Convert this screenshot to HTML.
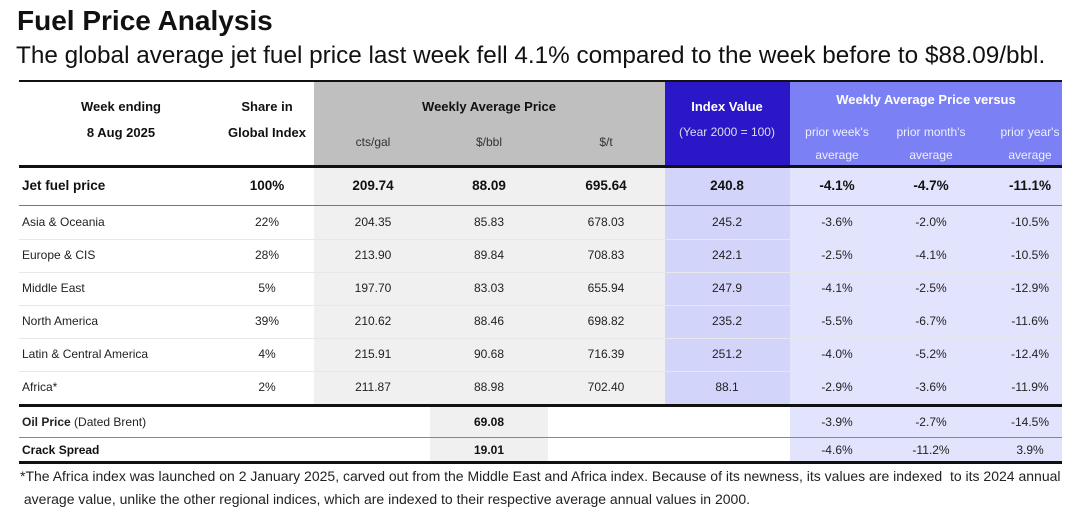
<!DOCTYPE html>
<html><head><meta charset="utf-8">
<style>
body{margin:0;width:1077px;height:522px;background:#fff;font-family:"Liberation Sans",sans-serif;color:#111;position:relative;overflow:hidden}
.a{position:absolute}
.c{position:absolute;text-align:center;white-space:nowrap}
.t{position:absolute;white-space:nowrap}
</style></head><body>
<div class="t" style="left:17px;top:5px;font-size:28px;font-weight:bold">Fuel Price Analysis</div>
<div class="t" style="left:16px;top:42px;font-size:24.3px">The global average jet fuel price last week fell 4.1% compared to the week before to $88.09/bbl.</div>
<div id="tbl"></div>
<div class="t" style="left:20px;top:465px;font-size:14px;line-height:23px;color:#222">*The Africa index was launched on 2 January 2025, carved out from the Middle East and Africa index. Because of its newness, its values are indexed &nbsp;to its 2024 annual<br>&nbsp;average value, unlike the other regional indices, which are indexed to their respective average annual values in 2000.</div>
<script>
const regions=["Asia & Oceania","Europe & CIS","Middle East","North America","Latin & Central America","Africa*"];
const shares=["22%","28%","5%","39%","4%","2%"];
const ctsGal=["204.35","213.90","197.70","210.62","215.91","211.87"];
const bbl=["85.83","89.84","83.03","88.46","90.68","88.98"];
const tonne=["678.03","708.83","655.94","698.82","716.39","702.40"];
const indexVal=["245.2","242.1","247.9","235.2","251.2","88.1"];
const wk=["-3.6%","-2.5%","-4.1%","-5.5%","-4.0%","-2.9%"];
const mo=["-2.0%","-4.1%","-2.5%","-6.7%","-5.2%","-3.6%"];
const yr=["-10.5%","-10.5%","-12.9%","-11.6%","-12.4%","-11.9%"];
const T=document.getElementById('tbl');
function box(x,y,w,h,bg,name){const d=document.createElement('div');d.className='a';


d.style.cssText=`left:${x}px;top:${y}px;width:${w}px;height:${h}px;background:${bg}`;T.appendChild(d);return d;}
function txt(x,y,s,css,name,center){const d=document.createElement('div');d.className=center?'c':'t';


d.textContent=s;d.style.cssText=(center?`left:${x-100}px;width:200px;`:`left:${x}px;`)+`top:${y}px;`+css;T.appendChild(d);return d;}
box(314,80,351,86,'#bfbfbf','price-header-bg');
box(665,80,125,86,'#2a17c8','index-header-bg');
box(790,80,272,86,'#7b80f4','versus-header-bg');
box(314,166,351,239,'#f0f0f0','price-body-bg');
box(665,166,125,239,'#d3d4f9','index-body-bg');
box(790,166,272,239,'#e2e3fc','versus-body-bg');
box(430,405,118,57,'#f0f0f0','oil-bbl-bg');
box(790,405,272,57,'#e2e3fc','oil-versus-bg');
box(19,80,1043,2,'#111','top-border');
box(19,165,1043,2.5,'#111','header-border');
box(19,404,1043,2.5,'#111','regions-border');
box(19,461,1043,2.5,'#111','bottom-border');
box(19,437,1043,1,'#888','oil-row-border');
box(19,205,1043,1,'#777','jet-row-border');
for(let i=1;i<6;i++) box(19,206+i*33,1043,1,'#e8e8ea','row-border');
const hb='font-size:13px;font-weight:bold;';
txt(121,99,'Week ending',hb,'week-ending-label',1);
txt(121,125,'8 Aug 2025',hb,'week-date',1);
txt(267,99,'Share in',hb,'share-label',1);
txt(267,125,'Global Index',hb,'share-label-2',1);
txt(489,99,'Weekly Average Price',hb,'price-group-label',1);
const sub='font-size:12px;color:#333;';
txt(373,135,'cts/gal',sub,'unit-cts-gal',1);txt(489,135,'$/bbl',sub,'unit-bbl',1);txt(606,135,'$/t',sub,'unit-t',1);
txt(727,99,'Index Value',hb+'color:#fff;','index-label',1);
txt(727,125,'(Year 2000 = 100)','font-size:12px;color:#dde;','index-base',1);
txt(926,92,'Weekly Average Price versus',hb+'color:#fff;','versus-label',1);
const vs='font-size:12px;color:#eef;';
[[837,"prior week's"],[931,"prior month's"],[1030,"prior year's"]].forEach(([x,s])=>{txt(x,125,s,vs,'versus-sub',1);txt(x,148,'average',vs,'versus-sub-2',1);});
const jb='font-size:13.5px;font-weight:bold;';
txt(22,178,'Jet fuel price',jb,'jet-fuel-label',0);
['100%','209.74','88.09','695.64','240.8','-4.1%','-4.7%','-11.1%'].forEach((s,i)=>txt([267,373,489,606,727,837,931,1030][i],178,s,jb,'jet-fuel-value',1));
const cx=[267,373,489,606,727,837,931,1030];
const rs='font-size:12px;color:#222;';
regions.forEach((r,i)=>{const y=215+i*33;
txt(22,y,r,rs,'region-label',0);
[shares,ctsGal,bbl,tonne,indexVal,wk,mo,yr].forEach((arr,j)=>txt(cx[j],y,arr[i],rs,'region-value',1));});
txt(22,415,'',rs,'oil-label',0).innerHTML='<b>Oil Price</b> (Dated Brent)';
txt(489,415,'69.08','font-size:12px;font-weight:bold;','oil-bbl',1);
['-3.9%','-2.7%','-14.5%'].forEach((s,j)=>txt(cx[5+j],415,s,rs,'oil-change',1));
txt(22,443,'Crack Spread','font-size:12px;font-weight:bold;','crack-label',0);
txt(489,443,'19.01','font-size:12px;font-weight:bold;','crack-bbl',1);
['-4.6%','-11.2%','3.9%'].forEach((s,j)=>txt(cx[5+j],443,s,rs,'crack-change',1));
</script>
</body></html>
